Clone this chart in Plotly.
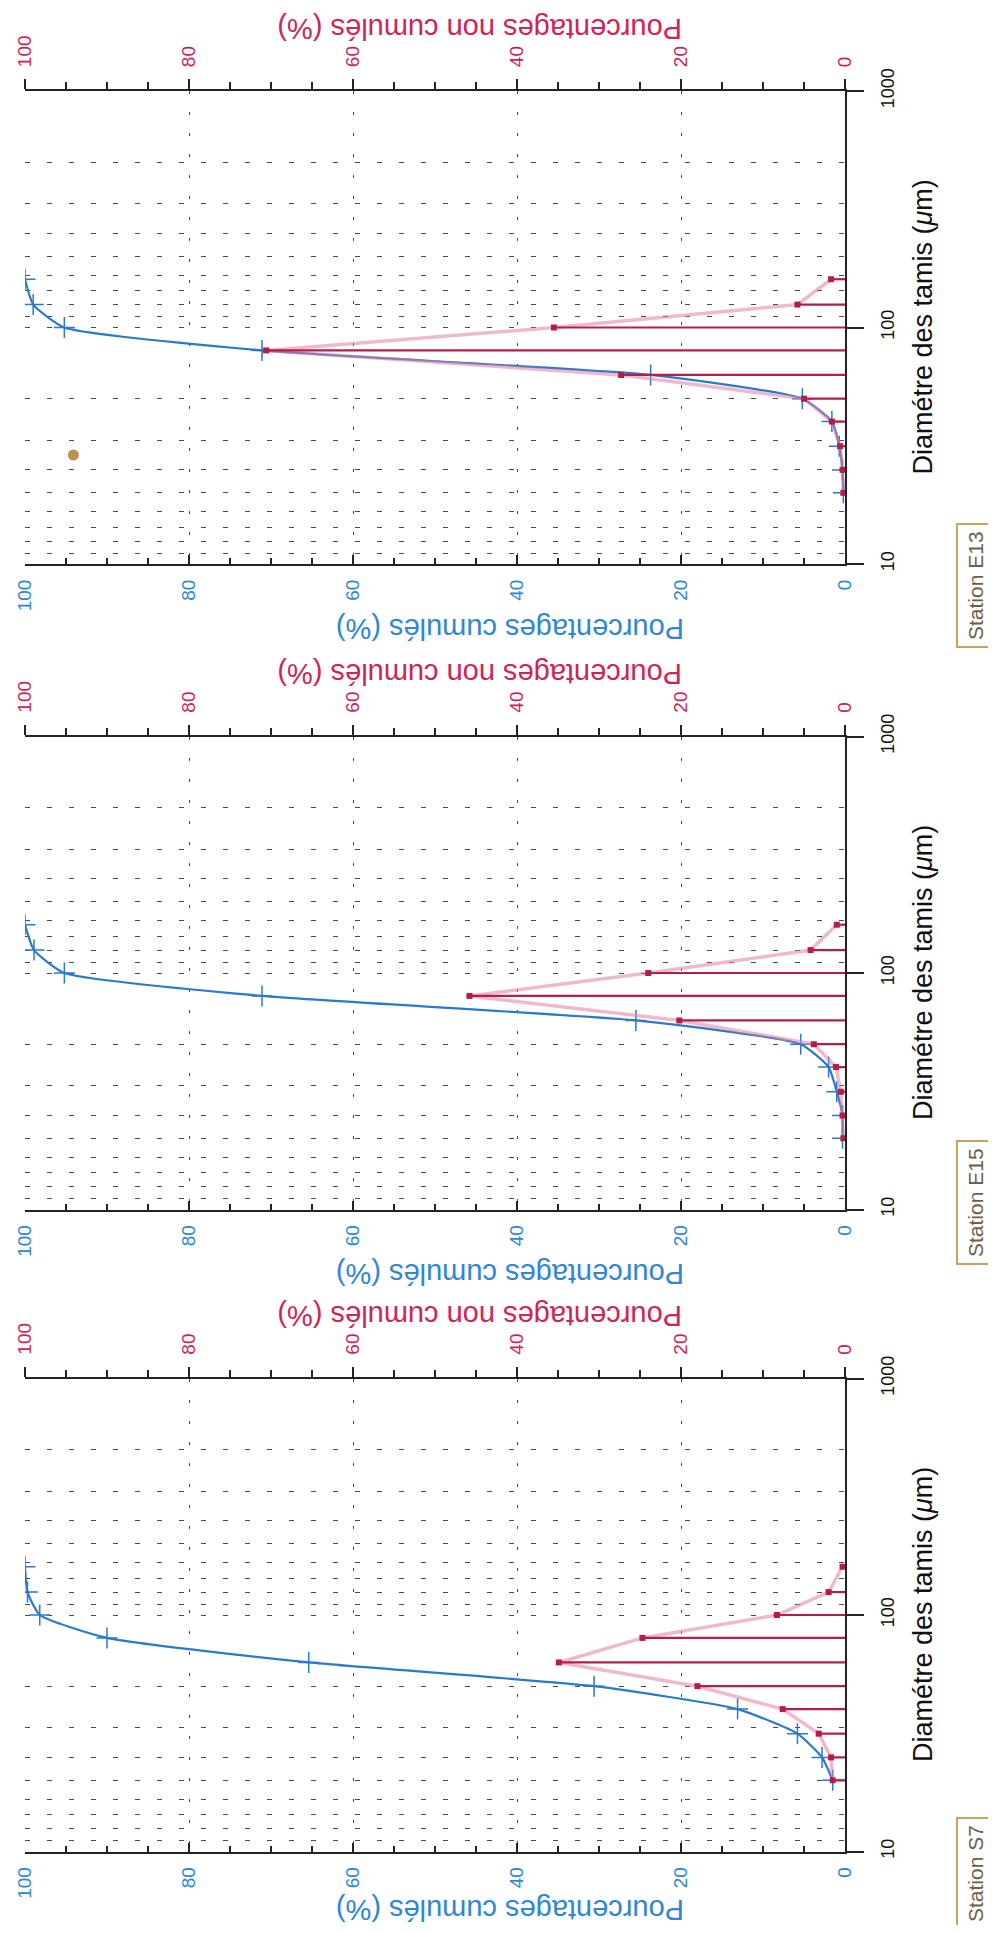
import plotly.graph_objects as go

# ---------------- data ----------------
sieves_um = [20, 25, 31.5, 40, 50, 63, 80, 100, 125, 160]
stations = ["Station E13", "Station E15", "Station S7"]

cum_E13 = [0.2, 0.3, 0.7, 1.6, 5.2, 23.7, 71.1, 95.2, 99.0, 100.0]
noncum_E13 = [0.2, 0.3, 0.6, 1.6, 5.0, 27.3, 70.6, 35.5, 5.8, 1.7]

cum_E15 = [0.3, 0.3, 1.0, 2.0, 5.4, 25.5, 71.1, 95.2, 98.9, 100.0]
noncum_E15 = [0.2, 0.3, 0.5, 1.1, 3.8, 20.2, 45.8, 24.0, 4.2, 1.0]

cum_S7 = [1.5, 2.8, 5.8, 13.1, 30.6, 65.4, 90.0, 98.2, 99.7, 100.0]
noncum_S7 = [1.5, 1.7, 3.2, 7.6, 18.0, 34.9, 24.7, 8.3, 2.0, 0.3]

pct_ticks = [0, 20, 40, 60, 80, 100]
pct_ticktext = ["0", "20", "40", "60", "80", "100"]
pct_minor = [5, 10, 15, 25, 30, 35, 45, 50, 55, 65, 70, 75, 85, 90, 95]
diam_ticks = [10, 100, 1000]
diam_ticktext = ["10", "100", "1000"]
diam_grid = [500, 333.3, 250, 200, 166.7, 142.9, 125, 111.1,
             50, 33.33, 25, 20, 16.67, 14.29, 12.5, 11.11]

spot_pct = [94.1]
spot_diam = [28.9]

panels = [
    (stations[0], cum_E13, noncum_E13),
    (stations[1], cum_E15, noncum_E15),
    (stations[2], cum_S7, noncum_S7),
]

# ---------------- layout geometry (page pixels) ----------------
OFF = 8
W, H = 980, 1917
def px(X):
    return (X - OFF) / W
def py(Y):
    return 1 - (Y - OFF) / H

LEFT, RIGHT = 25, 845
TOPS = [91, 736.5, 1378.5]
PH = 473
STATION_Y = [586, 1203, 1874]
BLUE_TITLE_GAP = [65, 65, 59]

BLUE = "#2b79cc"
BLUE_LBL = "#2f86d6"
RED = "#b51d48"
RED_LBL = "#cf2457"
PINK = "rgba(228,128,160,0.55)"
AX = "#222222"
GRID = "#4a4a4a"
FONT = "Liberation Sans, Arial, sans-serif"

fig = go.Figure()
layout = {}
annotations = []

for k, (name, cum, noncum) in enumerate(panels):
    xb = "x" if k == 0 else f"x{k+1}"
    xt = f"x{k+4}"
    yy = "y" if k == 0 else f"y{k+1}"
    top = TOPS[k]
    bot = top + PH
    xdom = [px(LEFT), px(RIGHT)]
    ydom = [py(bot), py(top)]

    # pink frequency polygon
    fig.add_trace(go.Scatter(x=noncum, y=sieves_um, xaxis=xt, yaxis=yy,
                             mode="lines", line=dict(color=PINK, width=3.5),
                             hoverinfo="skip"))
    # red bars (horizontal stems from 0 to value)
    bx, by = [], []
    for d, v in zip(sieves_um, noncum):
        bx += [0, v, None]
        by += [d, d, None]
    fig.add_trace(go.Scatter(x=bx, y=by, xaxis=xt, yaxis=yy, mode="lines",
                             line=dict(color=RED, width=2.2), hoverinfo="skip"))
    # cumulative curve
    fig.add_trace(go.Scatter(x=cum, y=sieves_um, xaxis=xb, yaxis=yy,
                             mode="lines+markers",
                             line=dict(color=BLUE, width=2.2, shape="spline", smoothing=0.5),
                             marker=dict(symbol="cross-thin", size=15,
                                         line=dict(color=BLUE, width=1.5)),
                             hoverinfo="skip"))
    # red markers
    fig.add_trace(go.Scatter(x=noncum, y=sieves_um, xaxis=xt, yaxis=yy,
                             mode="markers",
                             marker=dict(symbol="square", size=6, color=RED),
                             hoverinfo="skip"))
    if k == 0:
        fig.add_trace(go.Scatter(x=spot_pct, y=spot_diam, xaxis=xb, yaxis=yy,
                                 mode="markers",
                                 marker=dict(size=11, color="#b8934c"),
                                 hoverinfo="skip"))

    layout["xaxis" + ("" if k == 0 else str(k + 1))] = dict(
        domain=xdom, range=[100, 0], anchor=yy, side="bottom",
        showline=True, linecolor=AX, linewidth=2, zeroline=False,
        tickmode="array", tickvals=pct_ticks, ticktext=pct_ticktext,
        ticks="inside", ticklen=9, tickwidth=1.5, tickcolor=AX,
        tickangle=-90, tickfont=dict(family=FONT, size=19, color=BLUE_LBL),
        ticklabelstandoff=6,
        showgrid=True, gridcolor=GRID, gridwidth=1.2, griddash="3px,18px",
        minor=dict(tickmode="array", tickvals=pct_minor, ticks="inside",
                   ticklen=6, tickwidth=1.5, tickcolor=AX, showgrid=False),
        automargin=False, fixedrange=True,
    )
    layout[f"xaxis{k+4}"] = dict(
        domain=xdom, range=[100, 0], anchor=yy, side="top", overlaying=xb,
        showline=True, linecolor=AX, linewidth=2, zeroline=False,
        tickmode="array", tickvals=pct_ticks, ticktext=pct_ticktext,
        ticks="outside", ticklen=10, tickwidth=1.5, tickcolor=AX,
        tickangle=-90, tickfont=dict(family=FONT, size=19, color=RED_LBL),
        ticklabelstandoff=8,
        showgrid=False,
        minor=dict(tickmode="array", tickvals=pct_minor, ticks="outside",
                   ticklen=7, tickwidth=1.5, tickcolor=AX, showgrid=False),
        automargin=False, fixedrange=True,
    )
    layout["yaxis" + ("" if k == 0 else str(k + 1))] = dict(
        domain=ydom, type="log", range=[1, 3], anchor=xb, side="right",
        showline=True, linecolor=AX, linewidth=2, zeroline=False,
        tickmode="array", tickvals=diam_ticks, ticktext=diam_ticktext,
        ticks="outside", ticklen=17, tickwidth=1.5, tickcolor=AX,
        tickangle=-90, tickfont=dict(family=FONT, size=18, color="#111111"),
        ticklabelstandoff=8,
        showgrid=True, gridcolor=GRID, gridwidth=1.2, griddash="5px,17px",
        minor=dict(tickmode="array", tickvals=diam_grid, ticks="",
                   showgrid=True, gridcolor=GRID, gridwidth=1.2, griddash="5px,17px"),
        automargin=False, fixedrange=True,
    )

    # axis titles (rotated like the scanned page)
    annotations.append(dict(text="Pourcentages non cumulés (%)", xref="paper", yref="paper",
                            x=px(684), y=py(top - 62), xanchor="right", yanchor="middle",
                            textangle=180, showarrow=False,
                            font=dict(family=FONT, size=29, color=RED_LBL)))
    annotations.append(dict(text="Pourcentages cumulés (%)", xref="paper", yref="paper",
                            x=px(686), y=py(bot + BLUE_TITLE_GAP[k]), xanchor="right",
                            yanchor="middle", textangle=180, showarrow=False,
                            font=dict(family=FONT, size=29, color=BLUE_LBL)))
    annotations.append(dict(text="Diamétre des tamis (<i>μ</i>m)", xref="paper", yref="paper",
                            x=px(923), y=py((top + bot) / 2), xanchor="center", yanchor="middle",
                            textangle=-90, showarrow=False,
                            font=dict(family=FONT, size=27, color="#111111")))
    annotations.append(dict(text=name, xref="paper", yref="paper",
                            x=px(975), y=py(STATION_Y[k]), xanchor="center", yanchor="middle",
                            textangle=-90, showarrow=False,
                            bordercolor="#c9a25e", borderwidth=2, borderpad=6,
                            font=dict(family=FONT, size=21, color="#6d6048")))

fig.update_layout(**layout)
fig.update_layout(
    width=W, height=H,
    margin=dict(l=0, r=0, t=0, b=0),
    paper_bgcolor="white", plot_bgcolor="white",
    showlegend=False, hovermode=False,
    annotations=annotations,
)

fig.write_html("out.html")
